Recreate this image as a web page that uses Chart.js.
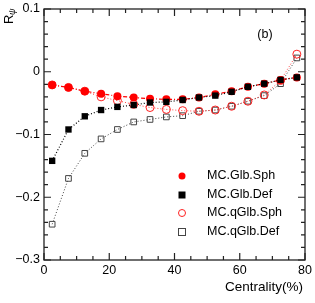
<!DOCTYPE html>
<html>
<head>
<meta charset="utf-8">
<script src="https://cdn.jsdelivr.net/npm/chart.js@4/dist/chart.umd.min.js"></script>
<style>
  body { margin: 0; background: #fff; }
  canvas { display: block; }
</style>
</head>
<body>
<canvas id="c" width="315" height="303"></canvas>
<script>
// centrality bins (%)
const centrality = [2.5, 7.5, 12.5, 17.5, 22.5, 27.5, 32.5, 37.5, 42.5, 47.5, 52.5, 57.5, 62.5, 67.5, 72.5, 77.5]
const glbSph = [-0.021, -0.025, -0.031, -0.035, -0.039, -0.041, -0.043, -0.044, -0.044, -0.041, -0.036, -0.031, -0.024, -0.019, -0.013, -0.009]
const glbDef = [-0.142, -0.092, -0.071, -0.061, -0.056, -0.053, -0.049, -0.048, -0.045, -0.041, -0.038, -0.032, -0.024, -0.019, -0.013, -0.009]
const qglbSph = [-0.021, -0.025, -0.031, -0.040, -0.046, -0.052, -0.057, -0.060, -0.062, -0.063, -0.061, -0.055, -0.047, -0.037, -0.014, 0.028]
const qglbDef = [-0.243, -0.170, -0.130, -0.107, -0.092, -0.080, -0.076, -0.072, -0.070, -0.063, -0.061, -0.055, -0.047, -0.038, -0.019, 0.022]
const names = ['MC.Glb.Sph', 'MC.Glb.Def', 'MC.qGlb.Sph', 'MC.qGlb.Def']
const xTicks = [0, 20, 40, 60, 80]
const yTicks = [0.1, 0, -0.1, -0.2, -0.3]

const pts = (ys) => centrality.map((x, i) => ({ x: x, y: ys[i] }))
const FONT = '"Liberation Sans", Arial, sans-serif'

// ROOT-like frame, inward ticks, labels and legend
const frame = {
  id: 'frame',
  beforeDatasetsDraw(chart) {
    const ctx = chart.ctx
    const { left, right, top, bottom } = chart.chartArea
    const xs = chart.scales.x, ys = chart.scales.y
    ctx.save()
    ctx.strokeStyle = '#222'
    ctx.lineWidth = 1.3
    ctx.strokeRect(left, top, right - left, bottom - top)
    ctx.lineWidth = 1.2
    ctx.beginPath()
    for (let v = 0; v <= 80; v += 5) {
      const px = xs.getPixelForValue(v)
      const len = v % 20 === 0 ? 7 : 4
      ctx.moveTo(px, bottom); ctx.lineTo(px, bottom - len)
      ctx.moveTo(px, top); ctx.lineTo(px, top + len)
    }
    for (let k = -15; k <= 5; k++) {
      const v = k * 0.02
      const py = ys.getPixelForValue(v)
      const len = k % 5 === 0 ? 7 : 4
      ctx.moveTo(left, py); ctx.lineTo(left + len, py)
      ctx.moveTo(right, py); ctx.lineTo(right - len, py)
    }
    ctx.stroke()

    ctx.fillStyle = '#000'
    ctx.font = '12.5px ' + FONT
    ctx.textAlign = 'center'
    ctx.textBaseline = 'middle'
    xTicks.forEach(v => ctx.fillText(String(v), xs.getPixelForValue(v), bottom + 11))
    ctx.textAlign = 'right'
    yTicks.forEach(v => {
      const s = v === 0 ? '0' : String(v).replace('-', '\u2212')
      ctx.fillText(s, left - 4, ys.getPixelForValue(v))
    })
    ctx.font = '13.5px ' + FONT
    ctx.textAlign = 'right'
    ctx.fillText('Centrality(%)', right - 2, bottom + 27)

    // y title, rotated
    ctx.save()
    ctx.translate(9, 24)
    ctx.rotate(-Math.PI / 2)
    ctx.textAlign = 'left'
    ctx.font = '13px ' + FONT
    ctx.fillText('R', 0, 0)
    ctx.font = 'italic 9px ' + FONT
    ctx.fillText('\u03C8', 9, 3)
    ctx.restore()

    ctx.font = '12.5px ' + FONT
    ctx.textAlign = 'center'
    ctx.fillText('(b)', 265, 35)
    ctx.restore()
  },
  afterDraw(chart) {
    const ctx = chart.ctx
    ctx.save()
    const rows = [176, 195, 213, 232]
    const mx = 182
    ctx.lineWidth = 1
    // filled circle
    ctx.fillStyle = '#ff0000'
    ctx.beginPath(); ctx.arc(mx, rows[0], 3.5, 0, Math.PI * 2); ctx.fill()
    // filled square
    ctx.fillStyle = '#000'
    ctx.fillRect(mx - 3.5, rows[1] - 3.5, 7, 7)
    // open circle
    ctx.strokeStyle = '#ff2020'
    ctx.beginPath(); ctx.arc(mx, rows[2], 3.5, 0, Math.PI * 2); ctx.stroke()
    // open square
    ctx.strokeStyle = '#444'
    ctx.strokeRect(mx - 3.5, rows[3] - 3.5, 7, 7)
    ctx.fillStyle = '#000'
    ctx.font = '12.5px ' + FONT
    ctx.textAlign = 'left'
    ctx.textBaseline = 'middle'
    names.forEach((n, i) => ctx.fillText(n, 207, rows[i]))
    ctx.restore()
  }
}

const chart = new Chart(document.getElementById('c').getContext('2d'), {
  type: 'scatter',
  data: {
    datasets: [
      {
        label: names[3],
        data: pts(qglbDef),
        showLine: true,
        borderColor: '#444',
        borderWidth: 1,
        borderDash: [1, 2],
        pointStyle: 'rect',
        pointRadius: 4,
        pointBackgroundColor: 'rgba(255,255,255,0)',
        pointBorderColor: '#444',
        pointBorderWidth: 1,
        order: 4,
      },
      {
        label: names[2],
        data: pts(qglbSph),
        showLine: true,
        borderColor: '#ff4040',
        borderWidth: 1,
        borderDash: [1, 2],
        pointStyle: 'circle',
        pointRadius: 4,
        pointBackgroundColor: 'rgba(255,255,255,0)',
        pointBorderColor: '#ff2020',
        pointBorderWidth: 1,
        order: 3,
      },
      {
        label: names[0],
        data: pts(glbSph),
        showLine: true,
        borderColor: '#ff0000',
        borderWidth: 1.2,
        borderDash: [4, 2, 1, 2],
        pointStyle: 'circle',
        pointRadius: 4,
        pointBackgroundColor: '#ff0000',
        pointBorderColor: '#ff0000',
        pointBorderWidth: 0,
        order: 2,
      },
      {
        label: names[1],
        data: pts(glbDef),
        showLine: true,
        borderColor: '#000',
        borderWidth: 1.2,
        borderDash: [1, 2],
        pointStyle: 'rect',
        pointRadius: 4.5,
        pointBackgroundColor: '#000',
        pointBorderColor: '#000',
        pointBorderWidth: 0,
        order: 1,
      },
    ],
  },
  options: {
    responsive: false,
    animation: false,
    devicePixelRatio: 1,
    layout: { padding: { left: 44, right: 10, top: 9, bottom: 43 } },
    plugins: {
      legend: { display: false },
      tooltip: { enabled: false },
    },
    scales: {
      x: { type: 'linear', min: 0, max: 80, display: false },
      y: { type: 'linear', min: -0.3, max: 0.1, display: false },
    },
  },
  plugins: [frame],
})
</script>
</body>
</html>
